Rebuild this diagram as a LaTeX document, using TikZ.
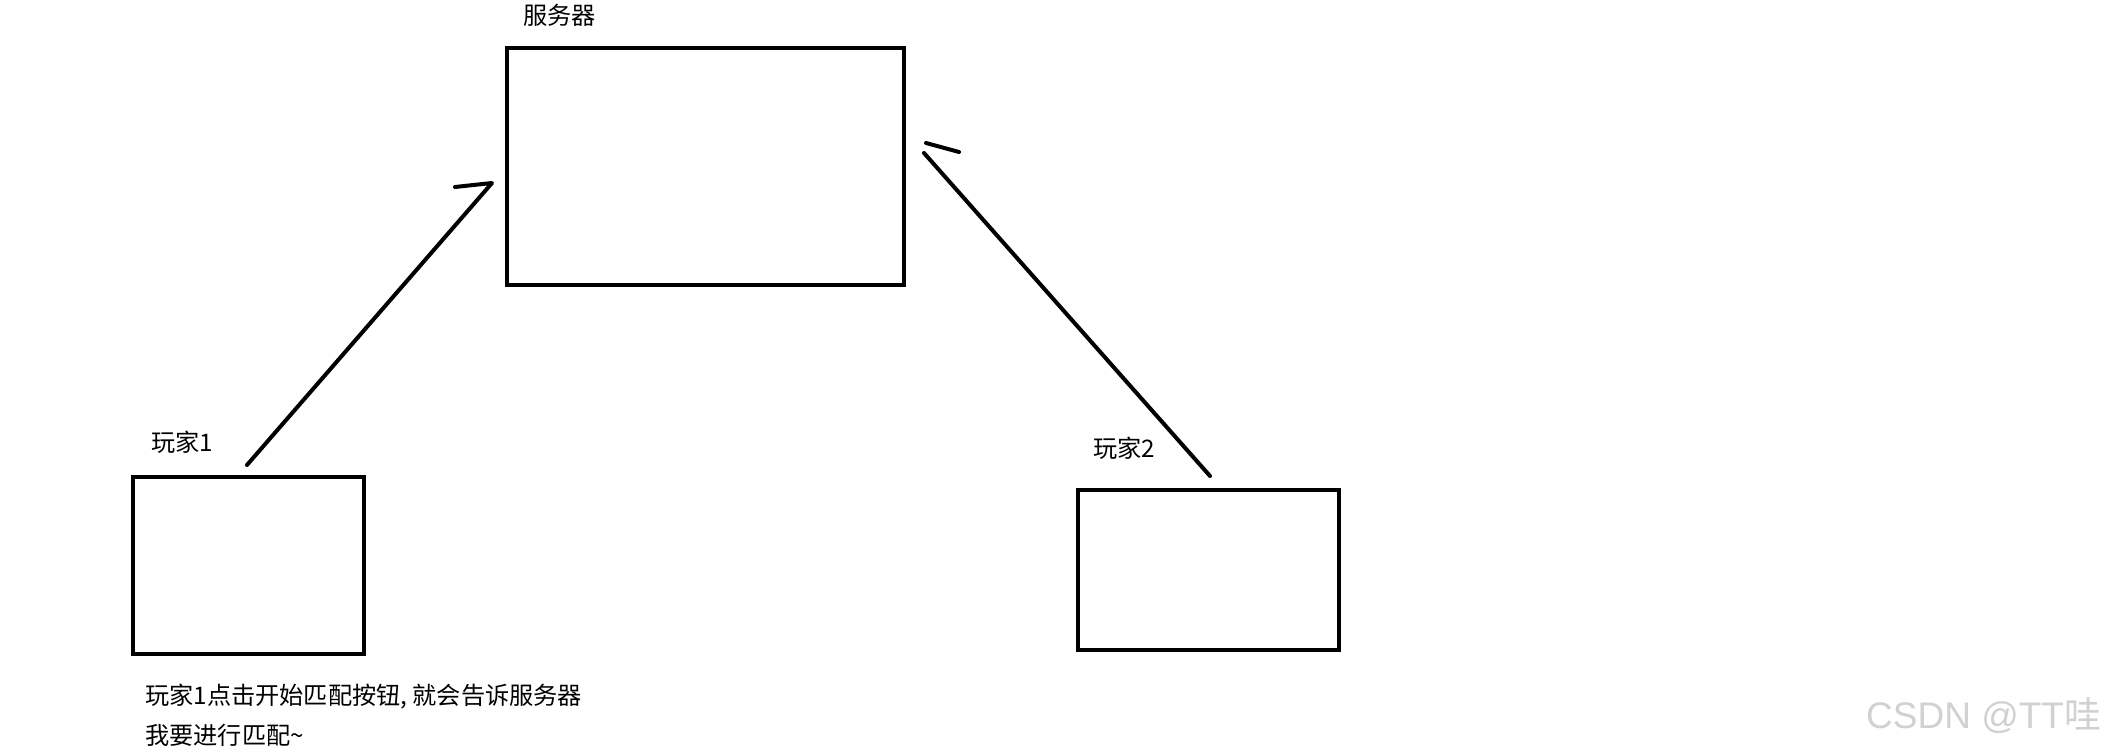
\documentclass[tikz,border=0pt]{standalone}
\usepackage{fontspec}
\setmainfont{Liberation Sans}
\newfontfamily\cjk{Noto Sans CJK SC}
\begin{document}
\begin{tikzpicture}[x=1pt,y=-1pt,
  box/.style={draw=black,line width=4pt,inner sep=0pt},
  lbl/.style={anchor=base west,inner sep=0pt,font=\cjk\fontsize{24.2}{29}\selectfont},
  conn/.style={draw=black,line width=4pt,line cap=round,line join=round},
  wm/.style={anchor=base west,inner sep=0pt,text=black!18,font=\fontsize{37}{40}\selectfont}]
\fill[white] (0,0) rectangle (2109,751);
\useasboundingbox (0,0) rectangle (2109,751);
% boxes
\node[box,minimum width=397pt,minimum height=237pt] (server) at (705.5,166.5) {};
\node[box,minimum width=231pt,minimum height=177pt] (p1) at (248.5,565.5) {};
\node[box,minimum width=261pt,minimum height=160pt] (p2) at (1208.5,570) {};
% labels
\node[lbl] (lserver) at (523,25) {服务器};
\node[lbl] (lp1) at (151,451) {玩家1};
\node[lbl] (lp2) at (1093,457) {玩家2};
\node[lbl] (note1) at (145,704) {玩家1点击开始匹配按钮, 就会告诉服务器};
\node[lbl] (note2) at (145,744) {我要进行匹配\textasciitilde};
\node[wm] (wmark) at (1866,728) {CSDN @TT{\cjk 哇}};
% connectors
\coordinate (a1s) at (247,465);
\coordinate (a1t) at (492,183);
\coordinate (a1b) at (455,187);
\coordinate (a2s) at (1210,476);
\coordinate (a2t) at (924,153);
\coordinate (b2s) at (926,143);
\coordinate (b2e) at (959,152);
\draw[conn] (a1s) -- (a1t) -- (a1b);
\draw[conn] (a2s) -- (a2t);
\draw[conn] (b2s) -- (b2e);
\end{tikzpicture}
\end{document}
